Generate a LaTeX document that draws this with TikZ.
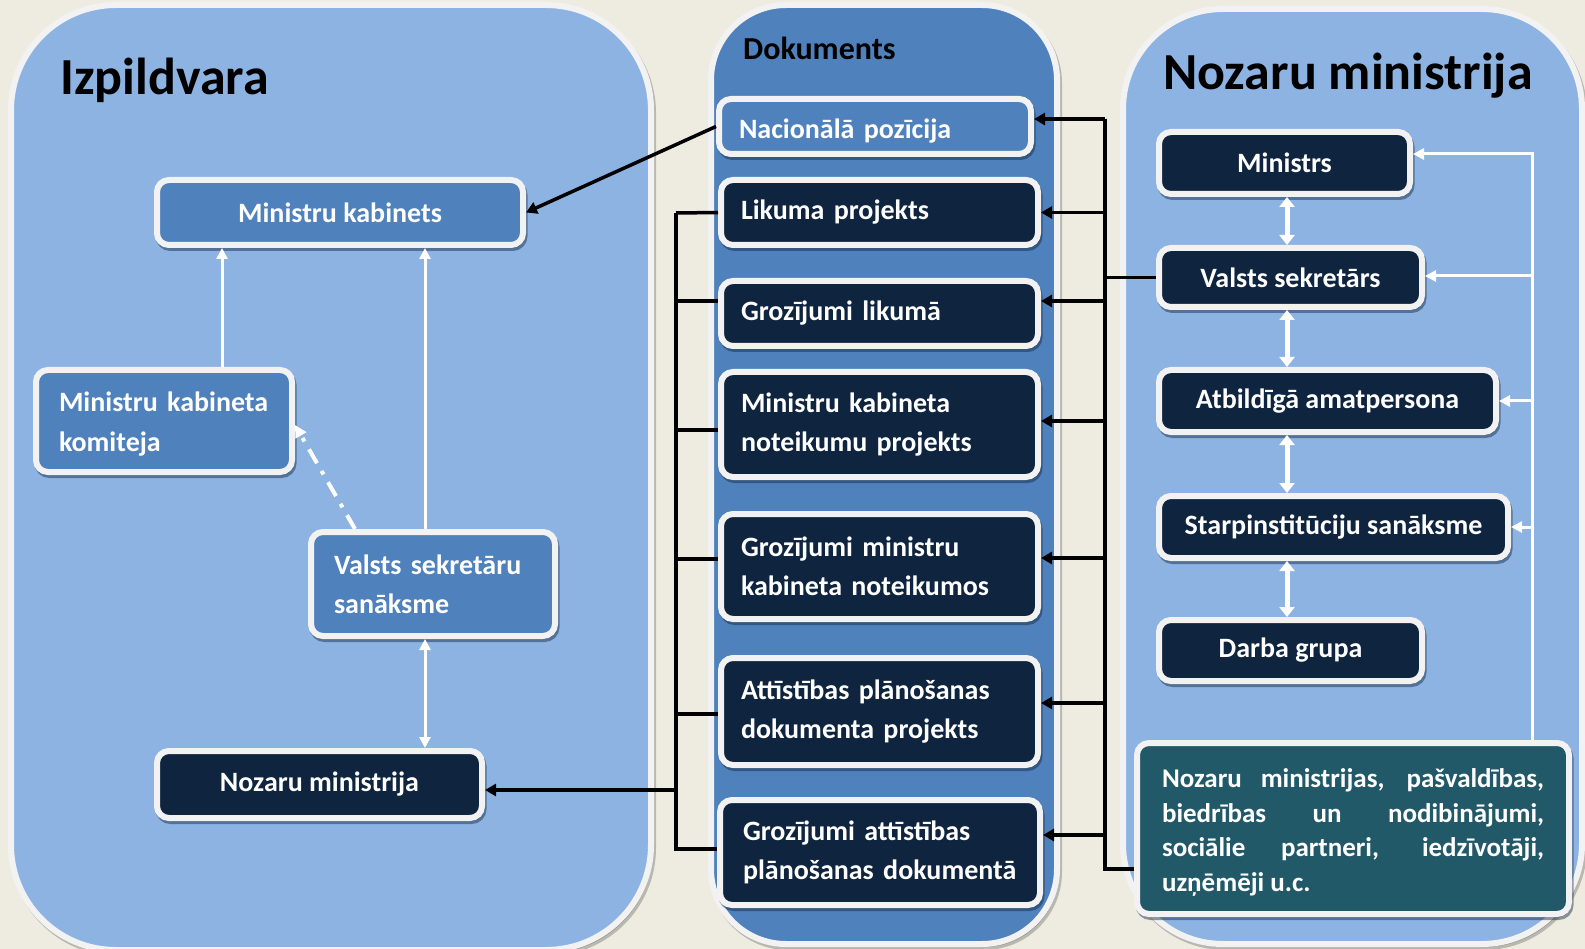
\documentclass[tikz,border=0pt]{standalone}
\usepackage{fontspec}
\setmainfont{Carlito}
\usetikzlibrary{arrows.meta,shadows,calc}
\definecolor{bgc}{HTML}{EEECE1}
\definecolor{panelc}{HTML}{8DB3E2}
\definecolor{midc}{HTML}{4F81BD}
\definecolor{darkc}{HTML}{0F243E}
\definecolor{tealc}{HTML}{215968}
\definecolor{rimc}{HTML}{F2F2F2}
\tikzset{
  panelbox/.style={draw=rimc, line width=6pt, drop shadow={shadow xshift=2pt, shadow yshift=-3pt, fill=black, draw=black, line width=6pt, opacity=.22}},
  bx/.style={rectangle, rounded corners=12pt, draw=rimc, line width=6pt, text=white, inner sep=0pt,
    font=\bfseries\fontsize{28}{39.4}\selectfont,
    drop shadow={shadow xshift=1.5pt, shadow yshift=-3pt, fill=darkc, draw=darkc, line width=6pt, opacity=.45}},
  lbx/.style={bx, align=left, text width=#1},
  ttl/.style={anchor=base west, inner sep=0pt, font=\bfseries\fontsize{52}{60}\selectfont},
  blk/.style={draw=black, line width=3.5pt},
  blkarr/.style={blk, -{Triangle[length=11pt,width=12pt]}},
  wht/.style={draw=white, line width=3pt},
  whtarr/.style={wht, -{Triangle[length=11pt,width=11pt]}},
  whtdbl/.style={draw=white, line width=5pt, {Triangle[length=10pt,width=15pt]}-{Triangle[length=10pt,width=15pt]}},
  dshdot/.style={draw=white, line width=4pt, dash pattern=on 16pt off 9pt on 4pt off 9pt, -{Triangle[length=12pt,width=12pt]}}
}
\begin{document}
\begin{tikzpicture}[x=1pt,y=-1pt]
\useasboundingbox (0,0) rectangle (1585,949);
\fill[bgc] (0,0) rectangle (1585,949);

% panels
\path[panelbox, fill=panelc, rounded corners=105pt] (11,5) rectangle (651,950);
\path[panelbox, fill=midc, rounded corners=75pt] (711,5) rectangle (1057,944);
\path[panelbox, fill=panelc, rounded corners=100pt] (1123,9) rectangle (1582,944);

% titles
\node[ttl] (tl) at (60,95) {Izpildvara};
\node[ttl] (tr) at (1163,90) {Nozaru ministrija};
\node[anchor=base west, inner sep=0pt, font=\bfseries\fontsize{32}{38}\selectfont] (td) at (743,60) {Dokuments};

% left panel
\node[bx, fill=midc, minimum width=366pt, minimum height=65pt] (mk) at (340,212.5) {Ministru kabinets};
\node[lbx=210pt, fill=midc, minimum width=256pt, minimum height=102pt] (mkk) at (164,421) {\raisebox{-3pt}[\height][\depth]{\parbox{210pt}{Ministru kabineta\\komiteja}}};
\node[lbx=198pt, fill=midc, minimum width=244pt, minimum height=104pt] (vss) at (433,584) {Valsts sekretāru\\sanāksme};
\node[bx, fill=darkc, minimum width=325pt, minimum height=67pt] (nml) at (319.5,784.5) {Nozaru ministrija};

% center panel
\node[lbx=272pt, fill=midc, minimum width=312pt, minimum height=55pt] (np) at (875,126.5) {\raisebox{-5pt}[\height][\depth]{Nacionālā pozīcija}};
\node[lbx=277pt, fill=darkc, minimum width=317pt, minimum height=65pt] (lp) at (879.5,212.5) {Likuma projekts};
\node[lbx=277pt, fill=darkc, minimum width=317pt, minimum height=65pt] (gl) at (879.5,313.5) {Grozījumi likumā};
\node[lbx=277pt, fill=darkc, minimum width=317pt, minimum height=105pt] (mknp) at (879.5,424.5) {Ministru kabineta\\noteikumu projekts};
\node[lbx=277pt, fill=darkc, minimum width=317pt, minimum height=105pt] (gmkn) at (879.5,566.5) {Grozījumi ministru\\kabineta noteikumos};
\node[lbx=277pt, fill=darkc, minimum width=317pt, minimum height=107pt] (apdp) at (879.5,711.5) {Attīstības plānošanas\\dokumenta projekts};
\node[lbx=274pt, fill=darkc, minimum width=320pt, minimum height=105pt] (gapd) at (880,852.5) {Grozījumi attīstības\\plānošanas dokumentā};

% right panel
\node[bx, fill=darkc, minimum width=251pt, minimum height=62pt] (min) at (1284.5,163) {Ministrs};
\node[bx, fill=darkc, minimum width=263pt, minimum height=59pt] (vs) at (1290.5,277.5) {Valsts sekretārs};
\node[bx, fill=darkc, minimum width=337pt, minimum height=62pt] (ap) at (1327.5,401) {Atbildīgā amatpersona};
\node[bx, fill=darkc, minimum width=349pt, minimum height=62pt] (ss) at (1333.5,527) {Starpinstitūciju sanāksme};
\node[bx, fill=darkc, minimum width=263pt, minimum height=61pt] (dg) at (1290.5,650.5) {Darba grupa};
\node[bx, fill=tealc, minimum width=432pt, minimum height=171pt, text width=382pt, align=justify,
      font=\bfseries\fontsize{27}{34.4}\selectfont] (teal) at (1353,828.5)
  {\raisebox{-4pt}[\height][\depth]{\parbox{382pt}{\hyphenpenalty=10000 Nozaru ministrijas, pašvaldības,\linebreak biedrības un nodibinājumi,\linebreak sociālie partneri, iedzīvotāji,\linebreak uzņēmēji u.c.}}};

% left panel connectors
\coordinate (lx1) at (222,0);
\coordinate (lx2) at (425,0);
\coordinate (dx) at (355,0);
\draw[whtarr] (mkk.north -| lx1) -- (mk.south -| lx1);
\draw[whtarr] (vss.north -| lx2) -- (mk.south -| lx2);
\draw[wht, {Triangle[length=11pt,width=11pt]}-{Triangle[length=11pt,width=11pt]}] (vss.south -| lx2) -- (nml.north -| lx2);
\draw[dshdot] (vss.north -| dx) -- ($(mkk.east)+(0,4)$);
\draw[blkarr] (np.west) -- (mk.east);

% left bus
\coordinate (lbT) at (676,213);
\coordinate (lbB) at (676,849);
\draw[blk] (lbT) -- (lbB);
\draw[blk] (lp.west) -- (lbT);
\draw[blk] ($(gl.west)+(0,-12.5)$) -| (lbT);
\draw[blk] ($(mknp.west)+(0,5.5)$) -| (lbT);
\draw[blk] ($(gmkn.west)+(0,-7.5)$) -| (lbT);
\draw[blk] ($(apdp.west)+(0,2.5)$) -| (lbT);
\draw[blk] ($(gapd.west)+(0,-3.5)$) -| (lbT);
\draw[blkarr] (lbB) |- ($(nml.east)+(0,5.5)$);

% right bus
\coordinate (rbT) at (1105,119);
\coordinate (rbB) at (1105,869);
\draw[blk] (rbT) -- (rbB) -- (rbB -| teal.west);
\draw[blk] (vs.west) -- (vs.west -| rbT);
\draw[blkarr] (rbT) -- (rbT -| np.east);
\draw[blkarr] (rbT) |- (lp.east);
\draw[blkarr] (rbT) |- ($(gl.east)+(0,-12.5)$);
\draw[blkarr] (rbT) |- ($(mknp.east)+(0,-3.5)$);
\draw[blkarr] (rbT) |- ($(gmkn.east)+(0,-8.5)$);
\draw[blkarr] (rbT) |- ($(apdp.east)+(0,-8.5)$);
\draw[blkarr] (rbT) |- ($(gapd.east)+(0,-17.5)$);

% right panel white connectors
\coordinate (rx) at (1287,0);
\coordinate (wx) at (1532,0);
\draw[whtdbl] (min.south -| rx) -- (vs.north -| rx);
\draw[whtdbl] (vs.south -| rx) -- (ap.north -| rx);
\draw[whtdbl] (ap.south -| rx) -- (ss.north -| rx);
\draw[whtdbl] (ss.south -| rx) -- (dg.north -| rx);
\draw[whtarr] (teal.north -| wx) |- ($(min.east)+(0,-9)$);
\draw[whtarr] (teal.north -| wx) |- ($(vs.east)+(0,-1.5)$);
\draw[whtarr] (teal.north -| wx) |- (ap.east);
\draw[whtarr] (teal.north -| wx) |- (ss.east);
\end{tikzpicture}
\end{document}
